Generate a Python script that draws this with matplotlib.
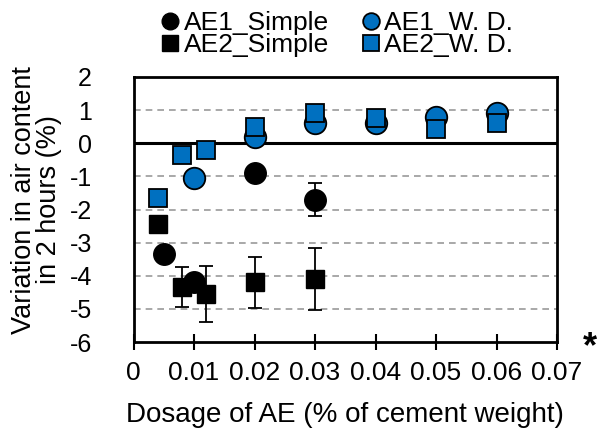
import matplotlib.pyplot as plt
from matplotlib.lines import Line2D

plt.rcParams['font.family'] = ['Liberation Sans', 'DejaVu Sans']
plt.rcParams['axes.unicode_minus'] = False

# AE1 simple
ae1_s_x = [0.005, 0.010, 0.020, 0.030]
ae1_s_y = [-3.35, -4.2, -0.9, -1.7]
ae1_s_err = [0, 0, 0, 0.5]

# AE1 with W. D.
ae1_w_x = [0.010, 0.020, 0.030, 0.040, 0.050, 0.060]
ae1_w_y = [-1.05, 0.2, 0.6, 0.6, 0.8, 0.9]

# AE2 simple
ae2_s_x = [0.004, 0.008, 0.012, 0.020, 0.030]
ae2_s_y = [-2.45, -4.35, -4.55, -4.2, -4.1]
ae2_s_err = [0, 0.6, 0.85, 0.77, 0.93]

# AE2 with W. D.
ae2_w_x = [0.004, 0.008, 0.012, 0.020, 0.030, 0.040, 0.050, 0.060]
ae2_w_y = [-1.65, -0.35, -0.2, 0.5, 0.9, 0.75, 0.42, 0.6]

blue = '#0070C0'

fig = plt.figure(figsize=(5.97, 4.30), dpi=100)
ax = fig.add_axes([133.5 / 597, 88 / 430, (557 - 133.5) / 597, (342 - 77) / 430])

for y in range(-5, 2):
    if y != 0:
        ax.axhline(y, color='#999999', linestyle=(0, (4, 3)), linewidth=1.2, zorder=0)
ax.axhline(0, color='black', linewidth=2.2, zorder=1)

ax.errorbar(ae1_s_x, ae1_s_y, yerr=ae1_s_err, fmt='o', color='black', ecolor='black',
            markersize=15.5, capsize=5, elinewidth=1.3, capthick=1.3, zorder=3)
ax.plot(ae1_w_x, ae1_w_y, 'o', color=blue, markeredgecolor='black', markeredgewidth=1.3,
        markersize=15.5, zorder=3)
ax.errorbar(ae2_s_x, ae2_s_y, yerr=ae2_s_err, fmt='s', color='black', ecolor='black',
            markersize=13.5, capsize=5, elinewidth=1.3, capthick=1.3, zorder=4)
ax.plot(ae2_w_x, ae2_w_y, 's', color=blue, markeredgecolor='black', markeredgewidth=1.3,
        markersize=13.5, zorder=4)

ax.set_xlim(0, 0.07)
ax.set_ylim(-6, 2)
ax.set_xticks([0, 0.01, 0.02, 0.03, 0.04, 0.05, 0.06, 0.07])
ax.set_xticklabels(['0', '0.01', '0.02', '0.03', '0.04', '0.05', '0.06', '0.07'])
ax.set_yticks(range(-6, 3))
ax.tick_params(axis='x', labelsize=19, width=1.5, length=12, direction='inout', pad=8)
ax.tick_params(axis='y', labelsize=18, length=0, pad=30)
for s in ax.spines.values():
    s.set_linewidth(2)

ax.set_xlabel('Dosage of AE (% of cement weight)', fontsize=20, labelpad=12)
fig.text(37 / 597, 1 - 200 / 430, 'Variation in air content\nin 2 hours (%)', fontsize=19.5,
         rotation=90, ha='center', va='center', linespacing=0.95, multialignment='center')

handles = [
    Line2D([], [], marker='o', linestyle='none', color='black', markersize=12),
    Line2D([], [], marker='s', linestyle='none', color='black', markersize=11),
    Line2D([], [], marker='o', linestyle='none', color=blue, markeredgecolor='black',
           markeredgewidth=1.3, markersize=12),
    Line2D([], [], marker='s', linestyle='none', color=blue, markeredgecolor='black',
           markeredgewidth=1.3, markersize=11),
]
labels = ['AE1_Simple', 'AE2_Simple', 'AE1_W. D.', 'AE2_W. D.']
fig.legend(handles, labels, ncol=2, loc='upper center', bbox_to_anchor=(0.566, 0.98),
           frameon=False, fontsize=19, handlelength=0.6, handletextpad=0.2,
           columnspacing=1.3, labelspacing=-0.08, borderaxespad=0.0, borderpad=0.1)

fig.text(590 / 597, 1 - 348 / 430, '*', fontsize=26, ha='center', va='center', fontweight='bold')

fig.savefig('out.png', dpi=100)
